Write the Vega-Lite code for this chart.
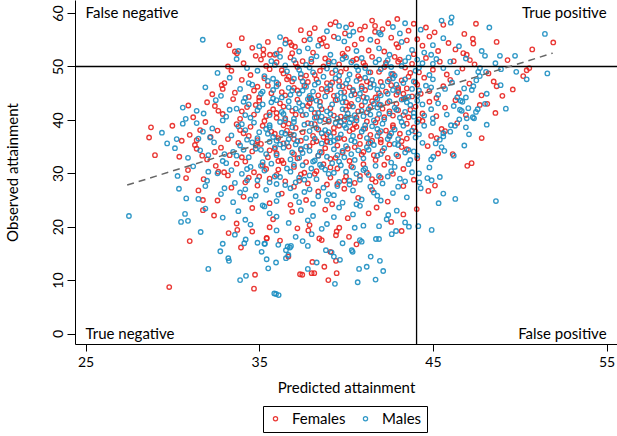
{
"$schema": "https://vega.github.io/schema/vega-lite/v6.json",
"width": 542, "height": 344,
"autosize": "none",
"padding": {"left": 75, "top": 0, "right": 0, "bottom": 92},
"background": "white",
"config": {"view": {"stroke": null}, "font": "Lato"},
"encoding": {
 "x": {"type": "quantitative", "scale": {"domain": [24.395, 55.6], "nice": false, "zero": false},
  "axis": {"title": "Predicted attainment", "values": [25,35,45,55], "grid": false, "domainColor": "black", "tickColor": "black", "tickSize": 7, "labelPadding": 4, "labelFontSize": 14, "labelColor": "black", "titleFontSize": 15, "titleFontWeight": "normal", "titleColor": "black", "titleX": 271, "titleY": 43, "titleBaseline": "middle", "titleAlign": "center", "labelFont": "Lato", "titleFont": "Lato"}},
 "y": {"type": "quantitative", "scale": {"domain": [-1.966, 62.45], "nice": false, "zero": false},
  "axis": {"title": "Observed attainment", "values": [0,10,20,30,40,50,60], "grid": false, "domainColor": "black", "tickColor": "black", "tickSize": 8, "labelAngle": 270, "labelAlign": "center", "labelBaseline": "bottom", "labelPadding": 2, "labelFontSize": 14, "labelColor": "black", "titleFontSize": 15, "titleFontWeight": "normal", "titleColor": "black", "titleX": -63, "titleY": 172, "titleAngle": 270, "titleAlign": "center", "titleBaseline": "middle", "labelFont": "Lato", "titleFont": "Lato"}}
},
"layer": [
{
 "data": {"values": [
{"x":33.28,"y":54.0},{"x":33.72,"y":52.5},{"x":33.6,"y":52.8},{"x":33.2,"y":50.0},{"x":32.84,"y":46.5},{"x":32.9,"y":45.8},{"x":30.92,"y":42.7},{"x":32.45,"y":42.6},{"x":32.65,"y":41.7},{"x":31.6,"y":38.1},{"x":28.77,"y":38.6},{"x":28.66,"y":36.7},{"x":29.0,"y":33.4},{"x":30.54,"y":36.1},{"x":31.4,"y":36.2},{"x":31.4,"y":34.6},{"x":31.72,"y":33.3},{"x":32.2,"y":36.8},{"x":32.45,"y":34.0},{"x":32.65,"y":30.3},{"x":32.98,"y":30.2},{"x":30.79,"y":29.1},{"x":31.76,"y":25.0},{"x":31.76,"y":23.1},{"x":31.0,"y":17.3},{"x":29.82,"y":8.7},{"x":33.24,"y":18.8},{"x":33.74,"y":19.4},{"x":33.95,"y":16.1},{"x":34.76,"y":11.0},{"x":34.7,"y":8.4},{"x":35.43,"y":17.9},{"x":38.98,"y":10.0},{"x":39.46,"y":11.3},{"x":38.75,"y":12.5},{"x":38.02,"y":11.3},{"x":38.17,"y":11.3},{"x":37.35,"y":11.1},{"x":37.48,"y":11.0},{"x":38.06,"y":13.4},{"x":39.42,"y":13.6},{"x":39.1,"y":15.3},{"x":40.17,"y":18.1},{"x":39.42,"y":18.4},{"x":39.46,"y":19.1},{"x":39.61,"y":19.8},{"x":38.46,"y":17.8},{"x":38.6,"y":17.5},{"x":37.83,"y":19.3},{"x":36.68,"y":14.4},{"x":35.43,"y":17.8},{"x":43.2,"y":19.2},{"x":44.07,"y":23.3},{"x":43.3,"y":22.3},{"x":41.76,"y":23.6},{"x":44.74,"y":26.7},{"x":45.12,"y":27.7},{"x":45.6,"y":57.8},{"x":47.48,"y":58.0},{"x":46.81,"y":56.1},{"x":47.3,"y":55.2},{"x":47.33,"y":54.3},{"x":48.67,"y":54.6},{"x":51.93,"y":54.5},{"x":50.72,"y":53.2},{"x":50.4,"y":49.3},{"x":50.55,"y":49.7},{"x":50.2,"y":48.2},{"x":48.67,"y":46.3},{"x":49.0,"y":44.5},{"x":48.13,"y":43.0},{"x":47.81,"y":36.6},{"x":47.23,"y":31.9},{"x":46.98,"y":31.4},{"x":46.14,"y":33.6},{"x":45.7,"y":37.9},{"x":45.22,"y":36.6},{"x":46.75,"y":52.5},{"x":46.95,"y":52.2},{"x":47.13,"y":51.2},{"x":39.1,"y":57.9},{"x":42.95,"y":58.9},{"x":42.43,"y":58.1},{"x":41.67,"y":57.6},{"x":41.67,"y":56.5},{"x":41.09,"y":57.5},{"x":39.94,"y":56.2},{"x":36.53,"y":55.0},{"x":36.77,"y":54.5},{"x":36.87,"y":54.0},{"x":37.06,"y":53.7},{"x":38.5,"y":55.0},{"x":38.7,"y":55.3},{"x":35.24,"y":53.2},{"x":35.24,"y":52.2},{"x":35.62,"y":52.2},{"x":35.9,"y":52.2},
{"x":37.4,"y":56.8},{"x":38.2,"y":57.2},{"x":40.3,"y":57.9},{"x":40.8,"y":56.9},{"x":42.1,"y":57.0},{"x":43.6,"y":56.7},{"x":44.6,"y":57.3},{"x":45.1,"y":56.4},{"x":37.9,"y":56.2},{"x":39.4,"y":58.3},{"x":43.9,"y":58.0},{"x":41.5,"y":58.6},
{"x":34.6,"y":53.5},{"x":35.5,"y":54.6},{"x":36.2,"y":53.1},{"x":37.6,"y":54.9},{"x":38.1,"y":52.6},{"x":38.9,"y":53.8},{"x":39.3,"y":55.6},{"x":39.8,"y":52.4},{"x":40.5,"y":54.1},{"x":40.9,"y":55.2},{"x":41.3,"y":53.0},{"x":41.8,"y":54.7},{"x":42.2,"y":52.8},{"x":42.6,"y":55.4},{"x":43.0,"y":53.6},{"x":43.5,"y":54.9},{"x":43.9,"y":52.3},{"x":44.4,"y":53.9},{"x":44.8,"y":55.6},{"x":45.3,"y":52.9},{"x":45.9,"y":54.4},{"x":46.3,"y":53.2},{"x":34.0,"y":55.3},{"x":36.9,"y":52.5},{"x":38.6,"y":54.3},{"x":40.1,"y":53.3},{"x":42.9,"y":54.2},{"x":44.1,"y":55.1},
{"x":33.4,"y":49.2},{"x":34.1,"y":50.6},{"x":34.5,"y":48.4},{"x":35.1,"y":51.3},{"x":35.6,"y":49.5},{"x":36.0,"y":50.8},{"x":36.4,"y":48.7},{"x":36.8,"y":51.7},{"x":37.2,"y":49.9},{"x":37.7,"y":48.3},{"x":38.0,"y":50.9},{"x":38.5,"y":49.2},{"x":38.8,"y":51.5},{"x":39.2,"y":48.8},{"x":39.6,"y":50.4},{"x":40.0,"y":49.6},{"x":40.4,"y":51.1},{"x":40.7,"y":48.2},{"x":41.1,"y":50.2},{"x":41.5,"y":51.8},{"x":41.9,"y":49.0},{"x":42.3,"y":50.7},{"x":42.7,"y":48.6},{"x":43.1,"y":51.3},{"x":43.4,"y":49.8},{"x":43.8,"y":50.5},{"x":44.2,"y":48.9},{"x":44.6,"y":51.6},{"x":45.0,"y":49.4},{"x":45.4,"y":50.9},{"x":45.8,"y":48.5},{"x":46.2,"y":51.0},{"x":46.7,"y":49.6},{"x":47.4,"y":50.4},{"x":48.2,"y":48.7},{"x":49.3,"y":51.2},{"x":34.8,"y":52.0},{"x":37.5,"y":51.0},{"x":39.9,"y":52.0},{"x":43.6,"y":48.1},
{"x":32.3,"y":44.8},{"x":33.0,"y":46.9},{"x":33.6,"y":45.1},{"x":34.0,"y":47.5},{"x":34.4,"y":44.3},{"x":34.9,"y":46.2},{"x":35.3,"y":47.8},{"x":35.7,"y":45.0},{"x":36.1,"y":46.7},{"x":36.5,"y":44.6},{"x":36.9,"y":47.2},{"x":37.2,"y":45.5},{"x":37.6,"y":46.4},{"x":37.9,"y":44.1},{"x":38.3,"y":47.6},{"x":38.6,"y":45.8},{"x":38.9,"y":46.9},{"x":39.3,"y":44.5},{"x":39.6,"y":47.3},{"x":39.9,"y":45.2},{"x":40.2,"y":46.1},{"x":40.5,"y":44.8},{"x":40.8,"y":47.7},{"x":41.1,"y":45.6},{"x":41.4,"y":46.8},{"x":41.7,"y":44.2},{"x":42.0,"y":47.1},{"x":42.3,"y":45.3},{"x":42.6,"y":46.5},{"x":42.9,"y":44.7},{"x":43.2,"y":47.4},{"x":43.5,"y":45.9},{"x":43.8,"y":44.4},{"x":44.1,"y":46.6},{"x":44.5,"y":47.9},{"x":44.8,"y":45.4},{"x":45.2,"y":44.1},{"x":45.6,"y":46.3},{"x":46.0,"y":47.5},{"x":46.5,"y":45.0},{"x":47.1,"y":46.8},{"x":47.8,"y":44.6},{"x":48.5,"y":47.2},{"x":49.6,"y":45.7},{"x":35.0,"y":44.2},{"x":37.4,"y":47.9},{"x":39.1,"y":45.7},{"x":41.0,"y":44.3},{"x":43.0,"y":46.0},{"x":44.3,"y":44.9},
{"x":31.2,"y":40.5},{"x":32.0,"y":43.3},{"x":32.9,"y":41.1},{"x":33.5,"y":43.9},{"x":33.9,"y":40.2},{"x":34.3,"y":42.4},{"x":34.7,"y":41.0},{"x":35.0,"y":43.6},{"x":35.4,"y":40.7},{"x":35.8,"y":42.0},{"x":36.2,"y":43.1},{"x":36.5,"y":40.3},{"x":36.9,"y":41.7},{"x":37.2,"y":43.8},{"x":37.5,"y":40.9},{"x":37.8,"y":42.6},{"x":38.2,"y":41.3},{"x":38.5,"y":43.4},{"x":38.8,"y":40.1},{"x":39.1,"y":42.2},{"x":39.4,"y":43.7},{"x":39.7,"y":40.6},{"x":40.0,"y":41.9},{"x":40.3,"y":43.0},{"x":40.6,"y":40.4},{"x":40.9,"y":42.7},{"x":41.2,"y":41.4},{"x":41.5,"y":43.5},{"x":41.8,"y":40.2},{"x":42.1,"y":42.1},{"x":42.4,"y":43.2},{"x":42.7,"y":40.8},{"x":43.0,"y":41.8},{"x":43.3,"y":43.9},{"x":43.6,"y":40.5},{"x":44.0,"y":42.5},{"x":44.4,"y":41.2},{"x":44.8,"y":43.4},{"x":45.2,"y":40.7},{"x":45.7,"y":42.3},{"x":46.3,"y":43.7},{"x":46.9,"y":40.9},{"x":47.7,"y":42.8},{"x":48.6,"y":41.3},{"x":34.0,"y":41.6},{"x":36.0,"y":41.3},{"x":38.0,"y":43.9},{"x":39.9,"y":40.0},{"x":42.5,"y":41.6},{"x":44.2,"y":40.1},
{"x":30.0,"y":38.9},{"x":31.0,"y":37.2},{"x":31.9,"y":39.6},{"x":32.6,"y":38.0},{"x":33.2,"y":36.4},{"x":33.7,"y":39.2},{"x":34.1,"y":37.5},{"x":34.5,"y":38.7},{"x":34.9,"y":36.2},{"x":35.3,"y":39.8},{"x":35.7,"y":37.8},{"x":36.1,"y":36.6},{"x":36.4,"y":39.0},{"x":36.8,"y":37.3},{"x":37.1,"y":38.5},{"x":37.4,"y":36.1},{"x":37.8,"y":39.4},{"x":38.1,"y":37.0},{"x":38.4,"y":38.2},{"x":38.7,"y":36.8},{"x":39.0,"y":39.7},{"x":39.3,"y":37.6},{"x":39.6,"y":38.9},{"x":39.9,"y":36.4},{"x":40.2,"y":37.9},{"x":40.5,"y":39.2},{"x":40.8,"y":36.9},{"x":41.1,"y":38.4},{"x":41.4,"y":37.2},{"x":41.7,"y":39.5},{"x":42.0,"y":36.3},{"x":42.3,"y":38.0},{"x":42.7,"y":39.0},{"x":43.1,"y":37.4},{"x":43.5,"y":36.5},{"x":43.9,"y":38.6},{"x":44.4,"y":39.8},{"x":44.9,"y":37.0},{"x":45.5,"y":38.3},{"x":46.4,"y":39.4},{"x":33.9,"y":38.1},{"x":36.6,"y":38.0},{"x":38.9,"y":36.0},{"x":40.6,"y":38.7},{"x":42.5,"y":37.1},
{"x":30.4,"y":33.1},{"x":31.3,"y":35.3},{"x":32.0,"y":32.6},{"x":32.8,"y":34.8},{"x":33.3,"y":33.4},{"x":33.8,"y":35.7},{"x":34.2,"y":32.2},{"x":34.6,"y":34.1},{"x":35.1,"y":35.5},{"x":35.5,"y":33.0},{"x":35.9,"y":34.6},{"x":36.3,"y":32.4},{"x":36.7,"y":35.0},{"x":37.0,"y":33.6},{"x":37.4,"y":34.4},{"x":37.7,"y":32.1},{"x":38.1,"y":35.8},{"x":38.4,"y":33.3},{"x":38.8,"y":34.7},{"x":39.1,"y":32.7},{"x":39.5,"y":35.2},{"x":39.8,"y":33.9},{"x":40.2,"y":32.3},{"x":40.5,"y":34.9},{"x":40.9,"y":33.5},{"x":41.3,"y":35.6},{"x":41.7,"y":32.5},{"x":42.1,"y":34.2},{"x":42.5,"y":35.4},{"x":43.0,"y":33.2},{"x":43.5,"y":34.5},{"x":44.1,"y":32.8},{"x":44.7,"y":35.1},{"x":45.3,"y":33.7},{"x":36.0,"y":33.7},{"x":38.9,"y":35.9},{"x":41.0,"y":34.0},{"x":43.2,"y":36.0},
{"x":30.9,"y":30.6},{"x":31.8,"y":28.9},{"x":32.5,"y":31.4},{"x":33.2,"y":29.6},{"x":33.7,"y":31.8},{"x":34.2,"y":28.3},{"x":34.7,"y":30.2},{"x":35.2,"y":31.5},{"x":35.6,"y":29.0},{"x":36.1,"y":30.7},{"x":36.5,"y":28.5},{"x":37.0,"y":31.2},{"x":37.4,"y":29.8},{"x":37.8,"y":28.1},{"x":38.3,"y":30.4},{"x":38.7,"y":31.7},{"x":39.1,"y":29.2},{"x":39.5,"y":30.9},{"x":39.9,"y":28.6},{"x":40.3,"y":31.3},{"x":40.8,"y":29.5},{"x":41.2,"y":30.1},{"x":41.7,"y":28.4},{"x":42.2,"y":31.6},{"x":42.7,"y":29.9},{"x":43.3,"y":30.8},{"x":43.9,"y":28.8},{"x":35.0,"y":29.4},{"x":37.6,"y":30.1},{"x":40.5,"y":28.2},
{"x":31.5,"y":26.8},{"x":32.6,"y":24.9},{"x":33.4,"y":27.3},{"x":34.1,"y":25.6},{"x":34.9,"y":27.7},{"x":35.6,"y":24.4},{"x":36.3,"y":26.2},{"x":37.0,"y":27.5},{"x":37.7,"y":25.0},{"x":38.4,"y":26.6},{"x":39.2,"y":24.2},{"x":39.9,"y":27.1},{"x":40.7,"y":25.4},{"x":41.5,"y":26.9},{"x":42.4,"y":24.7},{"x":43.3,"y":27.6},{"x":36.8,"y":24.1},{"x":38.9,"y":27.9},
{"x":32.4,"y":22.1},{"x":33.7,"y":20.6},{"x":34.6,"y":23.5},{"x":35.8,"y":21.4},{"x":36.9,"y":22.8},{"x":37.9,"y":20.3},{"x":38.8,"y":23.2},{"x":40.1,"y":21.6},{"x":41.3,"y":22.5},{"x":42.6,"y":20.9},
{"x":34.6,"y":19.1},{"x":36.2,"y":17.4},{"x":37.2,"y":19.7},{"x":40.6,"y":16.7},{"x":35.6,"y":19.9},
{"x":35.4,"y":50.1},{"x":36.3,"y":49.3},{"x":37.1,"y":50.6},{"x":38.2,"y":48.4},{"x":39.0,"y":51.0},{"x":39.7,"y":49.0},{"x":40.6,"y":51.4},{"x":41.4,"y":48.9},{"x":42.2,"y":49.9},{"x":43.0,"y":50.9},{"x":43.7,"y":48.8},{"x":36.7,"y":48.1},{"x":38.7,"y":50.0},{"x":41.0,"y":50.7},{"x":42.8,"y":51.8},
{"x":34.7,"y":45.5},{"x":35.5,"y":46.4},{"x":36.3,"y":45.2},{"x":37.0,"y":46.0},{"x":37.8,"y":47.1},{"x":38.4,"y":44.6},{"x":39.2,"y":47.0},{"x":39.8,"y":46.3},{"x":40.4,"y":45.4},{"x":41.2,"y":47.2},{"x":41.9,"y":45.0},{"x":42.5,"y":47.6},{"x":43.3,"y":44.9},{"x":44.0,"y":47.0},{"x":36.6,"y":47.6},{"x":38.9,"y":45.3},{"x":40.9,"y":46.3},{"x":43.0,"y":45.6},
{"x":34.8,"y":42.8},{"x":35.6,"y":41.4},{"x":36.4,"y":42.5},{"x":37.1,"y":41.0},{"x":37.9,"y":43.1},{"x":38.6,"y":42.0},{"x":39.3,"y":40.8},{"x":40.0,"y":43.3},{"x":40.7,"y":41.6},{"x":41.4,"y":42.5},{"x":42.2,"y":40.5},{"x":42.9,"y":43.0},{"x":43.7,"y":41.9},{"x":36.0,"y":40.4},{"x":38.3,"y":40.5},{"x":40.2,"y":42.6},{"x":41.9,"y":42.9},{"x":43.3,"y":40.9},
{"x":34.4,"y":37.0},{"x":35.2,"y":38.9},{"x":35.9,"y":37.4},{"x":36.7,"y":39.3},{"x":37.5,"y":37.7},{"x":38.2,"y":39.2},{"x":38.9,"y":37.3},{"x":39.6,"y":36.6},{"x":40.4,"y":38.3},{"x":41.2,"y":39.7},{"x":41.9,"y":37.6},{"x":42.7,"y":38.6},{"x":43.5,"y":39.3},{"x":37.0,"y":36.4},{"x":39.3,"y":38.5},{"x":41.5,"y":36.1},{"x":44.0,"y":37.8},
{"x":34.0,"y":33.0},{"x":34.8,"y":35.2},{"x":35.6,"y":34.3},{"x":36.4,"y":35.6},{"x":37.2,"y":32.8},{"x":37.9,"y":35.1},{"x":38.6,"y":33.9},{"x":39.4,"y":32.9},{"x":40.1,"y":34.6},{"x":40.8,"y":35.5},{"x":41.6,"y":33.4},{"x":42.4,"y":32.9},{"x":43.2,"y":34.9},{"x":36.1,"y":32.3},{"x":38.3,"y":36.0},{"x":42.0,"y":35.8},
{"x":34.4,"y":29.2},{"x":35.4,"y":30.8},{"x":36.4,"y":31.9},{"x":37.3,"y":28.6},{"x":38.2,"y":29.9},{"x":39.1,"y":31.1},{"x":40.0,"y":29.4},{"x":41.0,"y":31.7},{"x":42.0,"y":29.2},{"x":36.0,"y":29.7},{"x":39.5,"y":28.0},{"x":41.5,"y":28.9}
 ]},
 "mark": {"type": "point", "shape": "circle", "filled": false, "size": 20, "strokeWidth": 1.35, "opacity": 0.9},
 "encoding": {"color": {"datum": "Females", "type": "nominal", "scale": {"domain": ["Females","Males"], "range": ["#e8231f","#1b8ec2"]},
   "legend": {"title": null, "orient": "none", "legendX": 188, "legendY": 406, "direction": "horizontal", "strokeColor": "black", "fillColor": "white", "padding": 5, "labelFont": "Lato", "labelFontSize": 15, "labelColor": "black", "symbolType": "circle", "symbolSize": 18, "symbolStrokeWidth": 1.2, "columnPadding": 12, "labelOffset": 9}},
  "x": {"field": "x", "type": "quantitative"}, "y": {"field": "y", "type": "quantitative"}}
},
{
 "data": {"values": [
{"x":31.75,"y":55.0},{"x":31.4,"y":41.7},{"x":30.77,"y":40.2},{"x":31.4,"y":39.4},{"x":30.25,"y":36.4},{"x":30.15,"y":34.7},{"x":31.76,"y":37.8},{"x":32.17,"y":36.7},{"x":32.07,"y":33.4},{"x":32.07,"y":30.3},{"x":27.5,"y":22.0},{"x":30.38,"y":27.1},{"x":31.5,"y":25.2},{"x":30.73,"y":22.4},{"x":30.5,"y":20.9},{"x":30.9,"y":21.1},{"x":31.63,"y":19.0},{"x":32.07,"y":12.1},{"x":32.76,"y":15.4},{"x":32.9,"y":16.8},{"x":33.22,"y":14.1},{"x":33.26,"y":13.6},{"x":34.22,"y":17.6},{"x":34.14,"y":16.9},{"x":33.9,"y":10.0},{"x":34.24,"y":10.8},{"x":35.52,"y":12.2},{"x":35.43,"y":13.9},{"x":35.3,"y":16.8},{"x":35.14,"y":15.3},{"x":35.87,"y":7.5},{"x":35.97,"y":7.4},{"x":36.12,"y":7.2},{"x":39.36,"y":9.3},{"x":40.67,"y":9.6},{"x":41.7,"y":10.1},{"x":42.14,"y":11.7},{"x":40.75,"y":12.1},{"x":41.19,"y":12.5},{"x":41.95,"y":13.6},{"x":41.42,"y":14.4},{"x":37.8,"y":12.1},{"x":38.31,"y":13.3},{"x":35.97,"y":13.3},{"x":36.54,"y":14.1},{"x":36.68,"y":14.7},{"x":38.84,"y":15.6},{"x":39.17,"y":15.2},{"x":39.3,"y":14.4},{"x":39.65,"y":13.8},{"x":40.33,"y":15.6},{"x":40.38,"y":15.3},{"x":40.9,"y":17.2},{"x":40.8,"y":17.5},{"x":41.9,"y":17.7},{"x":38.02,"y":18.6},{"x":37.5,"y":17.3},{"x":36.64,"y":16.3},{"x":36.83,"y":16.4},{"x":36.77,"y":16.1},{"x":36.54,"y":15.6},{"x":36.1,"y":16.6},{"x":35.33,"y":16.8},{"x":42.63,"y":18.6},{"x":42.88,"y":19.2},{"x":43.62,"y":20.0},{"x":43.4,"y":20.8},{"x":44.16,"y":20.1},{"x":44.93,"y":19.4},{"x":42.43,"y":22.2},{"x":42.34,"y":21.4},{"x":42.92,"y":23.0},{"x":41.9,"y":20.1},{"x":41.72,"y":17.7},{"x":45.33,"y":24.4},{"x":44.68,"y":29.1},{"x":44.22,"y":28.3},{"x":45.6,"y":26.2},{"x":46.29,"y":25.2},{"x":48.63,"y":24.8},{"x":46.08,"y":59.2},{"x":46.03,"y":58.2},{"x":48.25,"y":57.3},{"x":51.45,"y":56.1},{"x":49.73,"y":52.0},{"x":48.86,"y":52.0},{"x":48.0,"y":52.0},{"x":47.81,"y":52.9},{"x":51.59,"y":48.7},{"x":48.92,"y":49.5},{"x":48.06,"y":49.0},{"x":47.71,"y":49.7},{"x":47.61,"y":49.0},{"x":47.33,"y":46.3},{"x":47.24,"y":45.6},{"x":47.58,"y":42.0},{"x":47.48,"y":41.5},{"x":47.37,"y":40.3},{"x":47.04,"y":42.2},{"x":46.56,"y":41.9},{"x":46.66,"y":41.7},{"x":46.95,"y":40.3},{"x":46.52,"y":40.1},{"x":47.08,"y":37.3},{"x":46.81,"y":35.2},{"x":45.66,"y":34.2},{"x":45.02,"y":33.1},{"x":46.27,"y":38.9},{"x":46.04,"y":39.0},{"x":45.6,"y":37.5},{"x":45.6,"y":36.9},{"x":45.16,"y":35.6},{"x":44.93,"y":28.7},{"x":46.6,"y":43.6},{"x":46.9,"y":44.2},{"x":40.42,"y":56.5},{"x":43.4,"y":58.1},{"x":36.2,"y":55.5},{"x":37.92,"y":55.1},{"x":39.55,"y":55.3},
{"x":38.9,"y":56.6},{"x":40.0,"y":57.3},{"x":41.9,"y":56.3},{"x":42.7,"y":57.4},{"x":44.3,"y":56.9},{"x":45.5,"y":58.6},{"x":43.1,"y":56.2},{"x":39.6,"y":57.6},
{"x":33.8,"y":52.9},{"x":35.0,"y":53.8},{"x":36.5,"y":54.3},{"x":37.3,"y":52.8},{"x":38.4,"y":53.9},{"x":39.1,"y":52.2},{"x":39.9,"y":54.7},{"x":40.6,"y":52.9},{"x":41.4,"y":55.0},{"x":41.9,"y":53.4},{"x":42.5,"y":52.2},{"x":43.2,"y":54.6},{"x":43.8,"y":53.1},{"x":44.5,"y":52.6},{"x":45.0,"y":54.0},{"x":45.6,"y":55.3},{"x":46.5,"y":53.8},{"x":40.2,"y":55.8},{"x":37.8,"y":53.4},{"x":42.0,"y":56.0},{"x":44.9,"y":52.2},{"x":36.0,"y":52.4},
{"x":32.6,"y":48.8},{"x":33.7,"y":51.4},{"x":34.3,"y":49.7},{"x":35.3,"y":48.2},{"x":35.9,"y":50.3},{"x":36.6,"y":49.1},{"x":37.0,"y":51.2},{"x":37.4,"y":48.6},{"x":37.9,"y":49.8},{"x":38.3,"y":51.9},{"x":38.7,"y":48.1},{"x":39.0,"y":50.6},{"x":39.4,"y":49.3},{"x":39.8,"y":51.4},{"x":40.2,"y":48.5},{"x":40.6,"y":50.0},{"x":40.9,"y":51.6},{"x":41.3,"y":48.9},{"x":41.7,"y":50.8},{"x":42.0,"y":49.5},{"x":42.4,"y":51.2},{"x":42.8,"y":48.3},{"x":43.2,"y":50.1},{"x":43.6,"y":51.7},{"x":44.0,"y":49.2},{"x":44.4,"y":50.6},{"x":44.8,"y":48.4},{"x":45.2,"y":51.4},{"x":45.6,"y":49.7},{"x":46.0,"y":50.9},{"x":46.4,"y":48.9},{"x":46.9,"y":51.5},{"x":47.7,"y":48.2},{"x":48.6,"y":50.6},{"x":49.8,"y":49.0},{"x":36.2,"y":51.8},{"x":38.1,"y":48.9},{"x":40.7,"y":49.3},{"x":42.6,"y":49.9},{"x":44.1,"y":51.3},
{"x":31.9,"y":46.1},{"x":32.8,"y":44.5},{"x":33.3,"y":47.9},{"x":33.9,"y":45.8},{"x":34.6,"y":46.6},{"x":35.1,"y":44.9},{"x":35.5,"y":47.3},{"x":35.8,"y":45.6},{"x":36.3,"y":44.2},{"x":36.7,"y":46.0},{"x":37.0,"y":47.7},{"x":37.3,"y":44.9},{"x":37.7,"y":46.2},{"x":38.1,"y":45.3},{"x":38.4,"y":47.0},{"x":38.8,"y":44.4},{"x":39.1,"y":46.5},{"x":39.4,"y":47.8},{"x":39.7,"y":45.1},{"x":40.0,"y":46.8},{"x":40.3,"y":44.6},{"x":40.6,"y":47.3},{"x":40.9,"y":45.9},{"x":41.2,"y":44.1},{"x":41.5,"y":47.5},{"x":41.8,"y":45.7},{"x":42.1,"y":46.3},{"x":42.4,"y":44.9},{"x":42.7,"y":47.8},{"x":43.0,"y":45.2},{"x":43.3,"y":46.9},{"x":43.6,"y":44.3},{"x":43.9,"y":47.2},{"x":44.2,"y":45.5},{"x":44.6,"y":46.4},{"x":45.0,"y":47.6},{"x":45.3,"y":44.7},{"x":45.7,"y":45.8},{"x":46.1,"y":47.0},{"x":46.4,"y":44.2},{"x":46.8,"y":45.9},{"x":47.5,"y":47.4},{"x":48.1,"y":44.9},{"x":48.9,"y":46.5},{"x":50.4,"y":47.6},{"x":34.2,"y":44.1},{"x":36.0,"y":47.0},{"x":38.0,"y":44.0},{"x":39.9,"y":44.2},{"x":41.6,"y":46.6},{"x":43.4,"y":44.0},{"x":44.9,"y":46.1},{"x":37.5,"y":45.5},{"x":40.4,"y":45.6},{"x":42.9,"y":46.6},
{"x":30.6,"y":42.3},{"x":31.8,"y":41.2},{"x":32.5,"y":43.7},{"x":33.1,"y":40.6},{"x":33.7,"y":42.1},{"x":34.1,"y":43.4},{"x":34.5,"y":40.4},{"x":34.9,"y":41.8},{"x":35.2,"y":42.9},{"x":35.6,"y":40.9},{"x":36.0,"y":43.7},{"x":36.3,"y":41.5},{"x":36.7,"y":42.4},{"x":37.0,"y":40.2},{"x":37.3,"y":43.2},{"x":37.7,"y":41.0},{"x":38.0,"y":42.0},{"x":38.3,"y":43.6},{"x":38.6,"y":40.6},{"x":38.9,"y":41.6},{"x":39.2,"y":42.9},{"x":39.5,"y":40.3},{"x":39.8,"y":43.3},{"x":40.1,"y":41.2},{"x":40.4,"y":42.5},{"x":40.7,"y":43.8},{"x":41.0,"y":40.7},{"x":41.3,"y":42.0},{"x":41.6,"y":43.0},{"x":41.9,"y":41.1},{"x":42.2,"y":40.1},{"x":42.5,"y":43.5},{"x":42.8,"y":42.3},{"x":43.1,"y":40.4},{"x":43.4,"y":41.5},{"x":43.7,"y":42.8},{"x":44.1,"y":43.6},{"x":44.5,"y":40.8},{"x":44.9,"y":42.0},{"x":45.3,"y":43.1},{"x":45.8,"y":41.0},{"x":46.2,"y":42.6},{"x":46.7,"y":43.4},{"x":47.3,"y":40.5},{"x":48.0,"y":43.0},{"x":49.2,"y":42.1},{"x":35.8,"y":44.0},{"x":37.5,"y":42.7},{"x":39.0,"y":40.0},{"x":40.9,"y":41.7},{"x":42.0,"y":42.8},{"x":43.9,"y":41.3},{"x":36.5,"y":40.0},{"x":38.4,"y":41.3},{"x":40.3,"y":40.1},{"x":41.8,"y":43.9},{"x":43.5,"y":43.3},{"x":45.0,"y":40.3},{"x":34.4,"y":42.9},{"x":33.3,"y":41.9},
{"x":29.4,"y":37.6},{"x":30.6,"y":39.3},{"x":31.5,"y":36.5},{"x":32.3,"y":38.4},{"x":32.9,"y":39.9},{"x":33.4,"y":37.1},{"x":33.8,"y":38.8},{"x":34.3,"y":36.3},{"x":34.7,"y":39.5},{"x":35.0,"y":37.7},{"x":35.4,"y":38.3},{"x":35.8,"y":36.8},{"x":36.2,"y":39.6},{"x":36.5,"y":37.4},{"x":36.9,"y":38.6},{"x":37.2,"y":36.0},{"x":37.6,"y":39.1},{"x":37.9,"y":37.9},{"x":38.2,"y":36.5},{"x":38.5,"y":39.8},{"x":38.8,"y":38.1},{"x":39.1,"y":36.9},{"x":39.4,"y":39.4},{"x":39.7,"y":37.3},{"x":40.0,"y":38.5},{"x":40.3,"y":36.2},{"x":40.6,"y":39.9},{"x":40.9,"y":37.8},{"x":41.2,"y":36.6},{"x":41.5,"y":38.8},{"x":41.8,"y":37.0},{"x":42.1,"y":39.3},{"x":42.4,"y":36.4},{"x":42.8,"y":38.2},{"x":43.2,"y":39.6},{"x":43.6,"y":37.6},{"x":44.0,"y":36.7},{"x":44.5,"y":38.9},{"x":45.0,"y":39.4},{"x":45.4,"y":36.3},{"x":46.0,"y":37.8},{"x":46.9,"y":38.6},{"x":48.1,"y":39.1},{"x":34.0,"y":39.2},{"x":35.6,"y":39.0},{"x":37.0,"y":37.2},{"x":38.6,"y":37.5},{"x":39.9,"y":39.0},{"x":41.0,"y":38.3},{"x":42.6,"y":37.5},{"x":43.8,"y":38.0},{"x":36.0,"y":36.1},{"x":39.3,"y":36.1},{"x":41.6,"y":39.9},{"x":44.2,"y":37.3},
{"x":29.7,"y":35.6},{"x":30.9,"y":32.9},{"x":31.6,"y":34.3},{"x":32.4,"y":35.8},{"x":32.9,"y":32.3},{"x":33.5,"y":34.0},{"x":33.9,"y":35.2},{"x":34.4,"y":33.0},{"x":34.8,"y":34.6},{"x":35.2,"y":32.1},{"x":35.6,"y":35.9},{"x":36.0,"y":33.4},{"x":36.4,"y":34.8},{"x":36.8,"y":32.6},{"x":37.1,"y":35.4},{"x":37.5,"y":33.8},{"x":37.9,"y":34.2},{"x":38.2,"y":32.4},{"x":38.6,"y":35.6},{"x":38.9,"y":33.1},{"x":39.3,"y":34.5},{"x":39.6,"y":32.2},{"x":40.0,"y":35.1},{"x":40.3,"y":33.6},{"x":40.7,"y":34.3},{"x":41.0,"y":32.8},{"x":41.4,"y":35.8},{"x":41.8,"y":33.3},{"x":42.2,"y":34.7},{"x":42.6,"y":32.0},{"x":43.0,"y":35.3},{"x":43.4,"y":33.9},{"x":43.9,"y":34.1},{"x":44.4,"y":35.7},{"x":44.9,"y":32.6},{"x":45.5,"y":34.9},{"x":46.2,"y":33.3},{"x":34.1,"y":34.4},{"x":35.9,"y":34.9},{"x":37.3,"y":32.9},{"x":38.5,"y":34.0},{"x":39.9,"y":33.0},{"x":41.2,"y":34.9},{"x":42.9,"y":33.5},{"x":36.6,"y":35.7},{"x":40.5,"y":35.9},{"x":43.7,"y":32.5},{"x":33.0,"y":33.6},
{"x":30.3,"y":29.5},{"x":31.2,"y":31.3},{"x":32.0,"y":28.6},{"x":32.6,"y":30.0},{"x":33.1,"y":31.9},{"x":33.6,"y":28.2},{"x":34.0,"y":29.9},{"x":34.5,"y":31.2},{"x":34.9,"y":28.7},{"x":35.3,"y":30.5},{"x":35.7,"y":31.8},{"x":36.2,"y":29.3},{"x":36.6,"y":30.9},{"x":37.1,"y":28.3},{"x":37.5,"y":31.5},{"x":37.9,"y":29.6},{"x":38.3,"y":28.9},{"x":38.8,"y":30.7},{"x":39.2,"y":31.9},{"x":39.6,"y":28.4},{"x":40.0,"y":30.3},{"x":40.4,"y":31.1},{"x":40.8,"y":28.8},{"x":41.3,"y":29.7},{"x":41.7,"y":31.4},{"x":42.1,"y":28.1},{"x":42.6,"y":30.4},{"x":43.1,"y":29.0},{"x":43.6,"y":31.7},{"x":44.2,"y":30.0},{"x":44.8,"y":31.1},{"x":45.4,"y":29.3},{"x":36.0,"y":28.0},{"x":38.6,"y":31.2},{"x":41.0,"y":30.6},{"x":43.4,"y":28.5},{"x":34.3,"y":30.8},{"x":39.0,"y":29.9},{"x":42.4,"y":29.4},{"x":37.3,"y":29.2},
{"x":30.8,"y":25.3},{"x":31.9,"y":27.6},{"x":32.8,"y":26.1},{"x":33.5,"y":24.6},{"x":34.2,"y":27.0},{"x":34.8,"y":25.8},{"x":35.4,"y":26.9},{"x":36.0,"y":24.8},{"x":36.5,"y":27.8},{"x":37.1,"y":25.7},{"x":37.6,"y":26.5},{"x":38.1,"y":24.3},{"x":38.7,"y":27.3},{"x":39.3,"y":25.9},{"x":39.8,"y":24.5},{"x":40.4,"y":26.8},{"x":40.9,"y":25.1},{"x":41.4,"y":27.5},{"x":42.0,"y":24.9},{"x":42.7,"y":26.3},{"x":43.5,"y":25.5},{"x":44.3,"y":27.2},{"x":35.2,"y":24.0},{"x":37.9,"y":27.0},{"x":40.2,"y":27.9},{"x":41.8,"y":25.8},{"x":33.9,"y":26.4},{"x":39.0,"y":26.1},
{"x":31.9,"y":23.4},{"x":32.9,"y":21.7},{"x":33.8,"y":22.9},{"x":34.5,"y":20.4},{"x":35.3,"y":23.8},{"x":36.0,"y":21.9},{"x":36.7,"y":20.7},{"x":37.4,"y":23.1},{"x":38.1,"y":22.0},{"x":38.9,"y":20.5},{"x":39.6,"y":23.6},{"x":40.4,"y":22.3},{"x":41.0,"y":20.2},{"x":35.6,"y":22.5},{"x":37.8,"y":21.2},{"x":39.3,"y":21.8},{"x":34.2,"y":21.3},{"x":40.8,"y":23.9},
{"x":33.6,"y":18.5},{"x":34.9,"y":17.0},{"x":36.0,"y":19.3},{"x":37.1,"y":18.1},{"x":38.6,"y":19.6},{"x":39.8,"y":16.9},{"x":40.5,"y":19.8},{"x":37.8,"y":16.4},
{"x":34.9,"y":49.2},{"x":35.7,"y":51.0},{"x":36.5,"y":50.2},{"x":37.3,"y":49.4},{"x":38.0,"y":51.4},{"x":38.9,"y":49.6},{"x":39.6,"y":48.3},{"x":40.3,"y":50.8},{"x":41.1,"y":49.7},{"x":41.9,"y":51.3},{"x":42.6,"y":48.6},{"x":43.4,"y":51.0},{"x":44.2,"y":49.8},{"x":37.7,"y":50.3},{"x":40.0,"y":51.7},{"x":42.3,"y":50.3},{"x":45.0,"y":50.5},{"x":39.3,"y":50.9},
{"x":34.4,"y":46.9},{"x":35.2,"y":45.3},{"x":36.0,"y":46.3},{"x":36.8,"y":44.7},{"x":37.5,"y":47.2},{"x":38.2,"y":46.6},{"x":38.9,"y":45.8},{"x":39.5,"y":44.6},{"x":40.1,"y":47.5},{"x":40.8,"y":44.9},{"x":41.4,"y":46.1},{"x":42.0,"y":44.6},{"x":42.7,"y":45.6},{"x":43.4,"y":47.6},{"x":44.1,"y":44.5},{"x":35.8,"y":47.7},{"x":37.9,"y":44.5},{"x":39.6,"y":46.3},{"x":41.1,"y":47.9},{"x":42.4,"y":47.2},{"x":43.8,"y":45.8},{"x":36.9,"y":45.5},
{"x":34.2,"y":40.9},{"x":35.0,"y":42.4},{"x":35.7,"y":43.3},{"x":36.4,"y":41.1},{"x":37.1,"y":42.1},{"x":37.8,"y":43.9},{"x":38.5,"y":42.6},{"x":39.1,"y":41.1},{"x":39.8,"y":42.0},{"x":40.5,"y":40.9},{"x":41.1,"y":43.4},{"x":41.8,"y":42.3},{"x":42.5,"y":41.2},{"x":43.2,"y":43.8},{"x":43.9,"y":40.6},{"x":36.7,"y":43.5},{"x":38.2,"y":40.4},{"x":40.0,"y":40.5},{"x":41.4,"y":41.0},{"x":42.9,"y":41.9},{"x":44.4,"y":42.9},{"x":37.4,"y":41.7},{"x":39.5,"y":43.8},
{"x":34.2,"y":38.1},{"x":34.9,"y":36.6},{"x":35.6,"y":38.6},{"x":36.3,"y":37.6},{"x":37.0,"y":39.6},{"x":37.7,"y":36.6},{"x":38.3,"y":38.5},{"x":39.0,"y":37.7},{"x":39.7,"y":39.6},{"x":40.4,"y":37.0},{"x":41.1,"y":39.0},{"x":41.8,"y":38.3},{"x":42.5,"y":36.9},{"x":43.3,"y":38.9},{"x":44.1,"y":39.6},{"x":35.5,"y":37.4},{"x":38.0,"y":39.3},{"x":40.2,"y":39.5},{"x":42.0,"y":37.9},{"x":36.7,"y":36.4},{"x":39.5,"y":36.5},{"x":43.0,"y":36.4},
{"x":33.7,"y":33.3},{"x":34.6,"y":35.8},{"x":35.4,"y":33.6},{"x":36.2,"y":35.4},{"x":36.9,"y":33.9},{"x":37.7,"y":35.0},{"x":38.4,"y":33.3},{"x":39.1,"y":35.8},{"x":39.8,"y":34.2},{"x":40.5,"y":32.5},{"x":41.3,"y":34.4},{"x":42.0,"y":33.6},{"x":42.8,"y":35.5},{"x":43.6,"y":34.4},{"x":35.1,"y":34.4},{"x":37.4,"y":34.6},{"x":39.5,"y":33.4},{"x":41.6,"y":35.3},{"x":44.1,"y":33.3},{"x":38.1,"y":32.2},
{"x":33.4,"y":30.6},{"x":34.3,"y":28.7},{"x":35.1,"y":31.4},{"x":35.9,"y":29.4},{"x":36.8,"y":30.3},{"x":37.6,"y":28.8},{"x":38.5,"y":31.6},{"x":39.3,"y":30.1},{"x":40.2,"y":28.6},{"x":41.1,"y":30.9},{"x":41.9,"y":29.5},{"x":42.8,"y":31.2},{"x":43.8,"y":30.2},{"x":35.6,"y":28.3},{"x":38.0,"y":30.9},{"x":40.6,"y":29.9},{"x":37.0,"y":31.6},{"x":39.7,"y":31.5},
{"x":33.0,"y":27.2},{"x":34.5,"y":25.1},{"x":36.1,"y":26.0},{"x":37.3,"y":24.6},{"x":38.4,"y":25.7},{"x":39.5,"y":27.6},{"x":40.6,"y":24.2},{"x":41.6,"y":26.4},{"x":43.0,"y":27.5},{"x":36.8,"y":27.2},{"x":38.9,"y":24.9}
 ]},
 "mark": {"type": "point", "shape": "circle", "filled": false, "size": 20, "strokeWidth": 1.35, "opacity": 0.9},
 "encoding": {"color": {"datum": "Males", "type": "nominal", "scale": {"domain": ["Females","Males"], "range": ["#e8231f","#1b8ec2"]}},
  "x": {"field": "x", "type": "quantitative"}, "y": {"field": "y", "type": "quantitative"}}
},
{
 "data": {"values": [{"h": 50}]},
 "mark": {"type": "rule", "color": "black", "strokeWidth": 1.3},
 "encoding": {"y": {"field": "h", "type": "quantitative"}}
},
{
 "data": {"values": [{"v": 44.06}]},
 "mark": {"type": "rule", "color": "black", "strokeWidth": 1.3},
 "encoding": {"x": {"field": "v", "type": "quantitative"}}
},
{
 "data": {"values": [{"x": 27.4, "y": 27.8}, {"x": 51.9, "y": 52.5}]},
 "mark": {"type": "line", "color": "#666666", "strokeWidth": 1.5, "strokeDash": [7, 5]},
 "encoding": {"x": {"field": "x", "type": "quantitative"}, "y": {"field": "y", "type": "quantitative"}}
},
{
 "data": {"values": [{"label": "False negative", "x": 25, "y": 60}, {"label": "True negative", "x": 25, "y": 0}]},
 "mark": {"type": "text", "align": "left", "baseline": "middle", "fontSize": 15, "font": "Lato", "color": "black"},
 "encoding": {"x": {"field": "x", "type": "quantitative"}, "y": {"field": "y", "type": "quantitative"}, "text": {"field": "label"}}
},
{
 "data": {"values": [{"label": "True positive", "x": 55, "y": 60}, {"label": "False positive", "x": 55, "y": 0}]},
 "mark": {"type": "text", "align": "right", "baseline": "middle", "fontSize": 15, "font": "Lato", "color": "black"},
 "encoding": {"x": {"field": "x", "type": "quantitative"}, "y": {"field": "y", "type": "quantitative"}, "text": {"field": "label"}}
}
]
}
